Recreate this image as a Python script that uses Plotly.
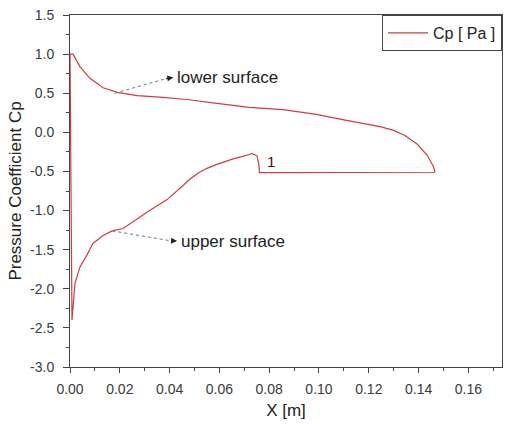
import plotly.graph_objects as go

# Single polyline: trailing edge -> upper surface (toward LE) -> LE -> lower surface -> trailing edge
x_upper = [0.1466, 0.120, 0.100, 0.0761, 0.0758, 0.0751, 0.0730, 0.0723, 0.0690, 0.0655, 0.059,
           0.055, 0.052, 0.0485, 0.0454, 0.039, 0.032, 0.0253, 0.0213, 0.0169, 0.0133, 0.0092,
           0.0068, 0.004, 0.002, 0.0008]
cp_upper = [-0.51, -0.515, -0.515, -0.515, -0.40, -0.30, -0.27, -0.28, -0.31, -0.34, -0.41,
            -0.46, -0.51, -0.59, -0.68, -0.86, -1.00, -1.14, -1.23, -1.26, -1.32, -1.42,
            -1.57, -1.72, -1.93, -2.40]
x_lower = [0.0, 0.0012, 0.004, 0.008, 0.0133, 0.0189, 0.027, 0.036, 0.047, 0.059, 0.072,
           0.0855, 0.099, 0.110, 0.118, 0.125, 0.130, 0.1345, 0.1394, 0.1434, 0.146, 0.1466]
cp_lower = [1.0, 1.0, 0.84, 0.69, 0.57, 0.51, 0.47, 0.45, 0.42, 0.37, 0.32,
            0.29, 0.23, 0.16, 0.115, 0.07, 0.025, -0.04, -0.15, -0.29, -0.44, -0.51]

x_all = x_upper + x_lower
cp_all = cp_upper + cp_lower

x_ticks = [0.00, 0.02, 0.04, 0.06, 0.08, 0.10, 0.12, 0.14, 0.16]
y_ticks = [-3.0, -2.5, -2.0, -1.5, -1.0, -0.5, 0.0, 0.5, 1.0, 1.5]

red = "#d23c3c"
font = "Liberation Sans, Arial, sans-serif"
txt = "#222222"

fig = go.Figure()
fig.add_trace(go.Scatter(x=x_all, y=cp_all, mode="lines", name="Cp [ Pa ]",
                         line=dict(color=red, width=1.2)))

# dotted leader lines for annotations
fig.add_trace(go.Scatter(x=[0.018, 0.0395], y=[0.50, 0.695], mode="lines", showlegend=False,
                         line=dict(color="#777777", width=1, dash="dot")))
fig.add_trace(go.Scatter(x=[0.017, 0.041], y=[-1.26, -1.39], mode="lines", showlegend=False,
                         line=dict(color="#777777", width=1, dash="dot")))

fig.add_annotation(x=0.0415, y=0.70, ax=0.038, ay=0.685, xref="x", yref="y", axref="x", ayref="y",
                   text="", showarrow=True, arrowhead=2, arrowsize=1, arrowwidth=1.2,
                   arrowcolor=txt)
fig.add_annotation(x=0.0430, y=-1.39, ax=0.040, ay=-1.385, xref="x", yref="y", axref="x", ayref="y",
                   text="", showarrow=True, arrowhead=2, arrowsize=1, arrowwidth=1.2,
                   arrowcolor=txt)
fig.add_annotation(x=0.0422, y=0.70, text="lower surface", showarrow=False, xanchor="left",
                   yanchor="middle", font=dict(family=font, size=17, color=txt))
fig.add_annotation(x=0.0437, y=-1.39, text="upper surface", showarrow=False, xanchor="left",
                   yanchor="middle", font=dict(family=font, size=17, color=txt))
fig.add_annotation(x=0.0785, y=-0.37, text="1", showarrow=False, xanchor="left",
                   yanchor="middle", font=dict(family=font, size=15, color=txt))

axis_common = dict(showline=True, linecolor="#444444", linewidth=1, mirror=True,
                   showgrid=False, zeroline=False, ticks="outside",
                   tickcolor="#444444", tickfont=dict(family=font, size=14, color="#3a3a3a"))

fig.update_xaxes(range=[0, 0.1735], tickvals=x_ticks,
                 ticktext=[f"{v:.2f}" for v in x_ticks], ticklen=5, ticklabelstandoff=4,
                 minor=dict(dtick=0.01, ticks="outside", ticklen=3, tickcolor="#444444"),
                 title=dict(text="X [m]", font=dict(family=font, size=17, color=txt),
                            standoff=8),
                 **axis_common)
fig.update_yaxes(range=[-3.0, 1.5], tickvals=y_ticks,
                 ticktext=[f"{v:.1f}" for v in y_ticks], ticklen=6, ticklabelstandoff=6,
                 minor=dict(dtick=0.25, tick0=0, ticks="outside", ticklen=3, tickcolor="#444444"),
                 title=dict(text="Pressure Coefficient Cp",
                            font=dict(family=font, size=17, color=txt), standoff=4),
                 **axis_common)

fig.update_layout(width=507, height=424, margin=dict(l=70, r=5, t=15, b=57),
                  plot_bgcolor="white", paper_bgcolor="white",
                  font=dict(family=font),
                  legend=dict(x=1, y=1, xanchor="right", yanchor="top",
                              bordercolor="#444444", borderwidth=1, bgcolor="white",
                              font=dict(family=font, size=16, color=txt),
                              itemwidth=40, tracegroupgap=0))

fig.write_html("out.html")
